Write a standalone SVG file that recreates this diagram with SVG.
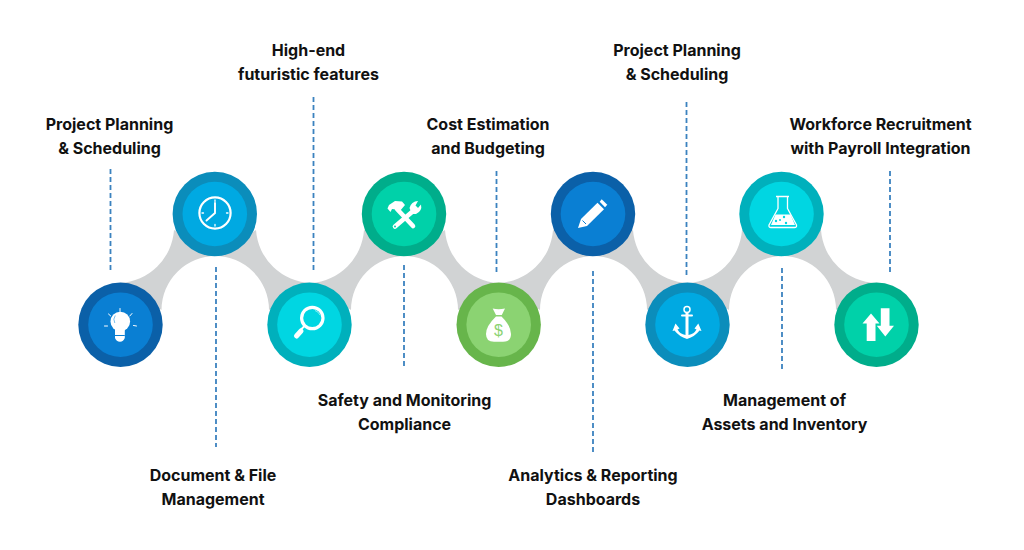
<svg xmlns="http://www.w3.org/2000/svg" width="1024" height="550" viewBox="0 0 1024 550">
<style>
.lbl{font-family:Inter,"Liberation Sans",sans-serif;font-weight:700;font-size:16px;fill:#111;text-anchor:middle}
.dash{stroke:#3b82bf;stroke-width:1.8;stroke-dasharray:5 3;fill:none}
.band{fill:#d1d3d4}
.ic{fill:#fff}
.ln{fill:none;stroke:#fff;stroke-linecap:round}
</style>
<rect width="1024" height="550" fill="#fff"/>
<g id="connectors">
<path class="band" d="M120 283A57 57 0 0 0 174 230L216 256A54 54 0 0 0 161.500 310Z"/>
<path class="band" d="M256 230A57 57 0 0 0 311 283L269 310A54 54 0 0 0 215 256Z"/>
<path class="band" d="M311 283A57 57 0 0 0 364 230L405 256A54 54 0 0 0 351 310Z"/>
<path class="band" d="M445 230A57 57 0 0 0 498 283L458 310A54 54 0 0 0 404 256Z"/>
<path class="band" d="M498 283A57 57 0 0 0 553 230L594 256A54 54 0 0 0 540 310Z"/>
<path class="band" d="M633 230A57 57 0 0 0 688 283L647 310A54 54 0 0 0 593 256Z"/>
<path class="band" d="M688 283A57 57 0 0 0 742 230L783 256A54 54 0 0 0 729 310Z"/>
<path class="band" d="M821 230A57 57 0 0 0 876 283L836 310A54 54 0 0 0 782 256Z"/>
<path class="dash" d="M110.500 169V273"/>
<path class="dash" d="M216 267V447"/>
<path class="dash" d="M313.500 97V270"/>
<path class="dash" d="M404 265V369"/>
<path class="dash" d="M496.500 171V275"/>
<path class="dash" d="M593 271V452"/>
<path class="dash" d="M686.500 102V275"/>
<path class="dash" d="M782 268V372"/>
<path class="dash" d="M890 171V275"/>
</g>
<g id="node1">
<circle cx="120.500" cy="324.700" r="42.200" fill="#0b60a8"/><circle cx="120.500" cy="324.700" r="32.300" fill="#0a7fd3"/>
<circle class="ic" cx="120.300" cy="321.500" r="9.800"/>
<path class="ic" d="M115 328H124.800V338Q123.500 341.700 120 341.700Q116.300 341.700 115 338Z"/>
<path d="M115 335.500H124.800" stroke="#0a7fd3" stroke-width="1"/>
<path d="M114.800 323A7 7 0 0 1 115.300 315.500" fill="none" stroke="#7cc0ec" stroke-width="1"/>
<path class="ln" stroke-width="1" d="M120 308.500V311.500M108.500 314L110.700 316M132 313.500L129.800 316M104.500 326H107.500M133.500 325.500L136.500 326"/>
</g>
<g id="node2">
<circle cx="214.800" cy="214" r="42.200" fill="#0b8dbb"/><circle cx="214.800" cy="214" r="32.300" fill="#00a9e2"/>
<circle cx="215" cy="213" r="15.600" fill="none" stroke="#fff" stroke-width="2.200"/>
<path class="ln" stroke-width="1.900" d="M215 203V213L206.500 220.500"/>
<path class="ln" stroke-width="1.300" d="M215 200V201.500M215 224.500V226M202 213H203.500M226.500 213H228"/>
</g>
<g id="node3">
<circle cx="309.500" cy="324.700" r="42.200" fill="#00b0bc"/><circle cx="309.500" cy="324.700" r="32.300" fill="#00d6e2"/>
<circle cx="312.300" cy="318" r="10.700" fill="none" stroke="#fff" stroke-width="3.200"/>
<path d="M315 310.500A8 8 0 0 1 320 315" fill="none" stroke="#8eecf2" stroke-width="1"/>
<path class="ln" stroke-width="1.800" d="M304.500 326L301 329.500"/>
<path class="ln" stroke-width="5" d="M301 331L296.500 336"/>
</g>
<g id="node4">
<circle cx="404" cy="214" r="42.200" fill="#00ad8b"/><circle cx="404" cy="214" r="32.300" fill="#00d1a9"/>
<path class="ln" stroke-width="4.600" d="M397 209L413 226M415.500 209L395 226.500"/>
<path class="ic" d="M387.500 208.500L389 205L395 201L402 201.500L405 205L399.500 211.500L396 209.500L392 209L390.500 212Z"/>
<path class="ic" d="M409.500 208A8.500 8.500 0 0 1 418 201L415.500 205.500L418 208L421 204.500Q422.500 211 416 214L412 214Z"/>
<circle cx="395" cy="226.500" r="1" fill="#00d1a9"/>
</g>
<g id="node5">
<circle cx="498.700" cy="324.700" r="42.200" fill="#67b54b"/><circle cx="498.700" cy="324.700" r="32.300" fill="#8bd372"/>
<path class="ic" d="M492.700 308.500Q498.500 310 505 308.500L501.800 315H496Z"/>
<path class="ic" d="M496 316.500H501.500Q511 326 511 334Q511 341.800 503 341.800H494Q486 341.800 486 334Q486 326 496 316.500Z"/>
<text x="498.500" y="335.500" text-anchor="middle" font-family="Liberation Sans,sans-serif" font-size="16" fill="#8bd372">$</text>
</g>
<g id="node6">
<circle cx="593" cy="214" r="42.200" fill="#0b60a8"/><circle cx="593" cy="214" r="32.300" fill="#0a7fd3"/>
<path class="ic" d="M581 219L597.500 202.800L604 209.300L587 226L578 228Z"/>
<path d="M582.500 220.500L586 224" stroke="#0a7fd3" stroke-width="1" fill="none"/>
<path class="ic" d="M599.700 201.700L601.700 199.300L607.300 204.700L605 207.300Z"/>
</g>
<g id="node7">
<circle cx="687.500" cy="324.700" r="42.200" fill="#0b8dbb"/><circle cx="687.500" cy="324.700" r="32.300" fill="#00a9e2"/>
<circle cx="687" cy="309.500" r="3" fill="none" stroke="#fff" stroke-width="1.500"/>
<path class="ln" stroke-width="2" d="M682 315.500H692"/>
<path class="ic" d="M685.500 312.500H688.500V335Q694 334 696.500 329.500L694.500 328.500L698.300 323.500L701.500 331L699.500 330.500Q695 336.500 687 339Q679 336.500 674.500 330.500L672.500 331L675.500 323.500L679.500 328.500L677.500 329.500Q680 334 685.500 335Z"/>
</g>
<g id="node8">
<circle cx="781.500" cy="214" r="42.200" fill="#00b0bc"/><circle cx="781.500" cy="214" r="32.300" fill="#00d6e2"/>
<path fill="none" stroke="#fff" stroke-width="1.300" stroke-linejoin="round" d="M776 196.500H789M778 196.500V208.500L769 225Q768.500 227.500 771 227.500H794.500Q797 227.500 796.500 225L787.500 208.500V196.500"/>
<path class="ic" d="M775.500 214.500H790.500L795 225H771Z"/>
<circle cx="776" cy="221" r="1.200" fill="#00d6e2"/><circle cx="784" cy="217" r="1.200" fill="#00d6e2"/><circle cx="786" cy="223" r="1.200" fill="#00d6e2"/><circle cx="780" cy="220" r="1" fill="#00d6e2"/>
</g>
<g id="node9">
<circle cx="876.500" cy="324.700" r="42.200" fill="#00ad8b"/><circle cx="876.500" cy="324.700" r="32.300" fill="#00d1a9"/>
<path class="ic" d="M871 313.500L879.500 323.500H875.500V341H866.700V323.500H862.500Z"/>
<path class="ic" d="M880.800 308.300H889.500V325.700H894L885.300 336.500L876.800 325.700H880.800Z"/>
</g>
<g id="labels">
<text class="lbl" x="109.500" y="130">Project Planning</text><text class="lbl" x="109.500" y="154">&amp; Scheduling</text>
<text class="lbl" x="308.500" y="56">High-end</text><text class="lbl" x="308.500" y="80">futuristic features</text>
<text class="lbl" x="488" y="130">Cost Estimation</text><text class="lbl" x="488" y="154">and Budgeting</text>
<text class="lbl" x="677" y="56">Project Planning</text><text class="lbl" x="677" y="80">&amp; Scheduling</text>
<text class="lbl" x="880.500" y="130">Workforce Recruitment</text><text class="lbl" x="880.500" y="154">with Payroll Integration</text>
<text class="lbl" x="213" y="481">Document &amp; File</text><text class="lbl" x="213" y="505">Management</text>
<text class="lbl" x="404.500" y="406">Safety and Monitoring</text><text class="lbl" x="404.500" y="430">Compliance</text>
<text class="lbl" x="593" y="481">Analytics &amp; Reporting</text><text class="lbl" x="593" y="505">Dashboards</text>
<text class="lbl" x="784.500" y="406">Management of</text><text class="lbl" x="784.500" y="430">Assets and Inventory</text>
</g>
</svg>
